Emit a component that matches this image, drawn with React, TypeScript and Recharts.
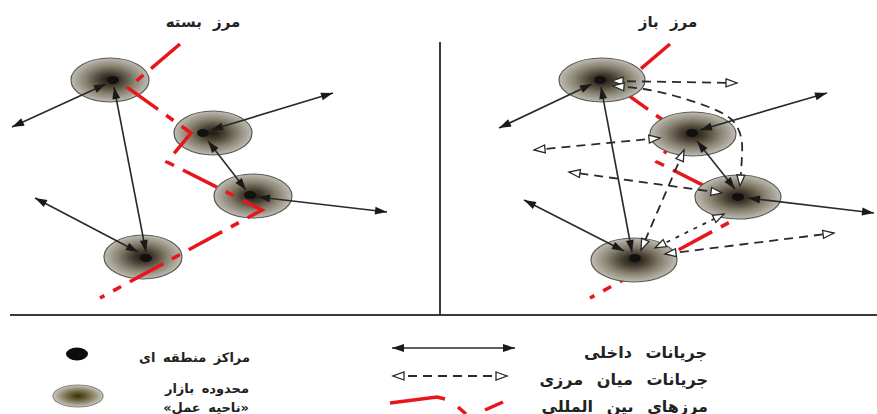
import React from 'react';
import { ComposedChart, XAxis, YAxis, Scatter, Line, ReferenceLine } from 'recharts';

const W = 877;
const H = 414;

type Pt = { x: number; y: number };
type Seg = [[number, number], [number, number]];

// market areas ("ناحیه عمل") and regional centres, closed border panel (left) and open border panel (right)
const closedAreas: Pt[] = [
  { x: 110, y: 80 },
  { x: 213, y: 133 },
  { x: 253, y: 196 },
  { x: 143, y: 257 },
];
const openAreas: Pt[] = [
  { x: 602, y: 80 },
  { x: 693, y: 134 },
  { x: 738, y: 197 },
  { x: 634, y: 260 },
];
const hubs: Pt[] = [
  { x: 113, y: 80 },
  { x: 203, y: 133 },
  { x: 250, y: 195 },
  { x: 146, y: 258 },
  { x: 600, y: 80 },
  { x: 692, y: 133 },
  { x: 738, y: 197 },
  { x: 635, y: 258 },
];

// internal flows (solid, double headed)
const internalFlows: Seg[] = [
  [[106, 84], [12, 127]],
  [[114, 87], [146, 252]],
  [[138, 252], [35, 198]],
  [[211, 130], [333, 93]],
  [[208, 141], [246, 190]],
  [[258, 197], [387, 212]],
  [[592, 84], [499, 128]],
  [[601, 87], [632, 252]],
  [[624, 251], [524, 200]],
  [[700, 130], [827, 93]],
  [[697, 141], [735, 189]],
  [[748, 198], [874, 213]],
];

// cross-border flows (dashed, open heads)
const crossFlows: Seg[] = [
  [[612, 81], [737, 83]],
  [[660, 138], [534, 150]],
  [[722, 193], [569, 172]],
  [[684, 150], [641, 250]],
  [[665, 254], [834, 233]],
];
const dottedFlows: Seg[] = [[[724, 214], [655, 248]]];
const curvedFlow: Pt[] = [
  { x: 613, y: 86 },
  { x: 644, y: 89 },
  { x: 675, y: 96 },
  { x: 706, y: 106 },
  { x: 731, y: 119 },
  { x: 741, y: 137 },
  { x: 742, y: 156 },
  { x: 740, y: 186 },
];

// international borders
const closedBorder: Pt[] = [
  { x: 180, y: 44 },
  { x: 128, y: 88 },
  { x: 191, y: 133 },
  { x: 167, y: 162 },
  { x: 262, y: 210 },
  { x: 100, y: 298 },
];
const openBorder: Pt[] = [
  { x: 670, y: 44 },
  { x: 618, y: 88 },
  { x: 681, y: 133 },
  { x: 657, y: 162 },
  { x: 752, y: 210 },
  { x: 590, y: 298 },
];

// frame
const dividers: Seg[] = [
  [[440, 42], [440, 315]],
  [[10, 315], [877, 315]],
];

// legend
const legendHub: Pt[] = [{ x: 77, y: 354 }];
const legendArea: Pt[] = [{ x: 78, y: 396 }];
const legendInternal: Seg[] = [[[392, 348], [515, 348]]];
const legendCross: Seg[] = [[[393, 376], [507, 376]]];
const legendBorder: { x: number; y: number | null }[] = [
  { x: 390, y: 403 },
  { x: 437, y: 397 },
  { x: 445, y: 399 },
  { x: 450, y: null },
  { x: 458, y: 407 },
  { x: 466, y: 414 },
  { x: 475, y: null },
  { x: 485, y: 410 },
  { x: 503, y: 402 },
];

const titles = [
  { x: 203, y: 22, text: 'مرز بسته' },
  { x: 668, y: 22, text: 'مرز باز' },
];
const leftLabels = [
  { x: 250, y: 357, text: 'مراکز منطقه ای' },
  { x: 249, y: 388, text: 'محدوده بازار' },
  { x: 249, y: 407, text: '«ناحیه عمل»' },
];
const rightLabels = [
  { x: 707, y: 352, text: 'جریانات داخلی' },
  { x: 708, y: 379, text: 'جریانات میان مرزی' },
  { x: 708, y: 406, text: 'مرزهای بین المللی' },
];

const FONT = '"DejaVu Sans", sans-serif';

const areaShape = (rx: number, ry: number, fill: string, stroke: string) => (p: any) => (
  <ellipse cx={p.cx} cy={p.cy} rx={rx} ry={ry} fill={fill} stroke={stroke} strokeWidth={1.2} />
);

const hubShape = (p: any) => <ellipse cx={p.cx} cy={p.cy} rx={6} ry={4} fill="#111" />;
const legendHubShape = (p: any) => <ellipse cx={p.cx} cy={p.cy} rx={11} ry={6.5} fill="#0d0d0d" />;

const textShape = (anchor: 'middle' | 'end', size: number, wordGap: number) => (p: any) => (
  <text
    x={p.cx}
    y={p.cy}
    textAnchor={anchor}
    dominantBaseline="central"
    fontFamily={FONT}
    fontWeight="bold"
    fontSize={size}
    fill="#222"
    style={{ wordSpacing: wordGap }}
  >
    {p.payload.text}
  </text>
);

const lineShape = (kind: 'solid' | 'cross' | 'dotted' | 'frame') => (p: any) => {
  if (kind === 'frame') {
    return <line x1={p.x1} y1={p.y1} x2={p.x2} y2={p.y2} stroke="#3a3a3a" strokeWidth={2} />;
  }
  const head = kind === 'solid' ? 'url(#solidHead)' : 'url(#openHead)';
  const dash = kind === 'solid' ? undefined : kind === 'cross' ? '9 6' : '4 6';
  return (
    <line
      x1={p.x1}
      y1={p.y1}
      x2={p.x2}
      y2={p.y2}
      stroke="#2a2a2a"
      strokeWidth={kind === 'solid' ? 1.6 : 1.8}
      strokeDasharray={dash}
      markerStart={head}
      markerEnd={head}
    />
  );
};

const seg = (s: Seg, kind: 'solid' | 'cross' | 'dotted' | 'frame', key: string, z: number) => (
  <ReferenceLine
    key={key}
    segment={[
      { x: s[0][0], y: s[0][1] },
      { x: s[1][0], y: s[1][1] },
    ]}
    ifOverflow="visible"
    zIndex={z}
    shape={lineShape(kind)}
  />
);

export default function App() {
  return (
    <div style={{ position: 'absolute', left: 0, top: 0, width: W, height: H, background: '#fff' }}>
      <ComposedChart width={W} height={H} margin={{ top: 0, right: 0, bottom: 0, left: 0 }}>
        <defs>
          <radialGradient id="areaGrad" cx="50%" cy="50%" r="50%">
            <stop offset="0%" stopColor="#1c170f" />
            <stop offset="28%" stopColor="#463e30" />
            <stop offset="62%" stopColor="#86806f" />
            <stop offset="100%" stopColor="#bfbcb3" />
          </radialGradient>
          <radialGradient id="legendGrad" cx="50%" cy="50%" r="50%">
            <stop offset="0%" stopColor="#3a300f" />
            <stop offset="40%" stopColor="#6e6540" />
            <stop offset="80%" stopColor="#aaa594" />
            <stop offset="100%" stopColor="#cbc9c2" />
          </radialGradient>
          <marker id="solidHead" markerWidth={14} markerHeight={10} refX={12} refY={5} orient="auto-start-reverse" markerUnits="userSpaceOnUse" overflow="visible">
            <path d="M0,1 L12,5 L0,9 z" fill="#1a1a1a" />
          </marker>
          <marker id="openHead" markerWidth={14} markerHeight={12} refX={12} refY={5.5} orient="auto-start-reverse" markerUnits="userSpaceOnUse" overflow="visible">
            <path d="M1,1.5 L12,5.5 L1,9.5 z" fill="#fff" stroke="#2a2a2a" strokeWidth={1.3} />
          </marker>
        </defs>
        <XAxis type="number" dataKey="x" domain={[0, W]} allowDataOverflow hide />
        <YAxis type="number" dataKey="y" domain={[0, H]} allowDataOverflow reversed hide />

        {dividers.map((s, i) => seg(s, 'frame', `d${i}`, 10))}

        <Line data={openBorder} dataKey="y" type="linear" stroke="#e8161c" strokeWidth={3.5} strokeDasharray="38 10 9 10" dot={false} activeDot={false} isAnimationActive={false} zIndex={20} />

        <Scatter data={closedAreas} shape={areaShape(39, 22, 'url(#areaGrad)', '#5c5a55')} isAnimationActive={false} zIndex={30} />
        <Scatter data={openAreas} shape={areaShape(43, 22, 'url(#areaGrad)', '#5c5a55')} isAnimationActive={false} zIndex={30} />

        <Line data={closedBorder} dataKey="y" type="linear" stroke="#e8161c" strokeWidth={3.5} strokeDasharray="38 10 9 10" dot={false} activeDot={false} isAnimationActive={false} zIndex={40} />

        {crossFlows.map((s, i) => seg(s, 'cross', `c${i}`, 50))}
        {dottedFlows.map((s, i) => seg(s, 'dotted', `t${i}`, 50))}
        <Line data={curvedFlow} dataKey="y" type="natural" stroke="#2a2a2a" strokeWidth={1.8} strokeDasharray="9 6" markerStart="url(#openHead)" markerEnd="url(#openHead)" dot={false} activeDot={false} isAnimationActive={false} zIndex={50} />
        {internalFlows.map((s, i) => seg(s, 'solid', `f${i}`, 60))}

        <Scatter data={hubs} shape={hubShape} isAnimationActive={false} zIndex={70} />

        <Scatter data={legendHub} shape={legendHubShape} isAnimationActive={false} zIndex={70} />
        <Scatter data={legendArea} shape={areaShape(25, 11, 'url(#legendGrad)', '#8a8880')} isAnimationActive={false} zIndex={70} />
        {legendInternal.map((s, i) => seg(s, 'solid', `li${i}`, 70))}
        {legendCross.map((s, i) => seg(s, 'cross', `lc${i}`, 70))}
        <Line data={legendBorder} dataKey="y" type="linear" stroke="#e8161c" strokeWidth={3.5} connectNulls={false} dot={false} activeDot={false} isAnimationActive={false} zIndex={70} />

        <Scatter data={titles} shape={textShape('middle', 15, 6)} isAnimationActive={false} zIndex={80} />
        <Scatter data={leftLabels} shape={textShape('end', 13, 3)} isAnimationActive={false} zIndex={80} />
        <Scatter data={rightLabels} shape={textShape('end', 16, 8)} isAnimationActive={false} zIndex={80} />
      </ComposedChart>
    </div>
  );
}
